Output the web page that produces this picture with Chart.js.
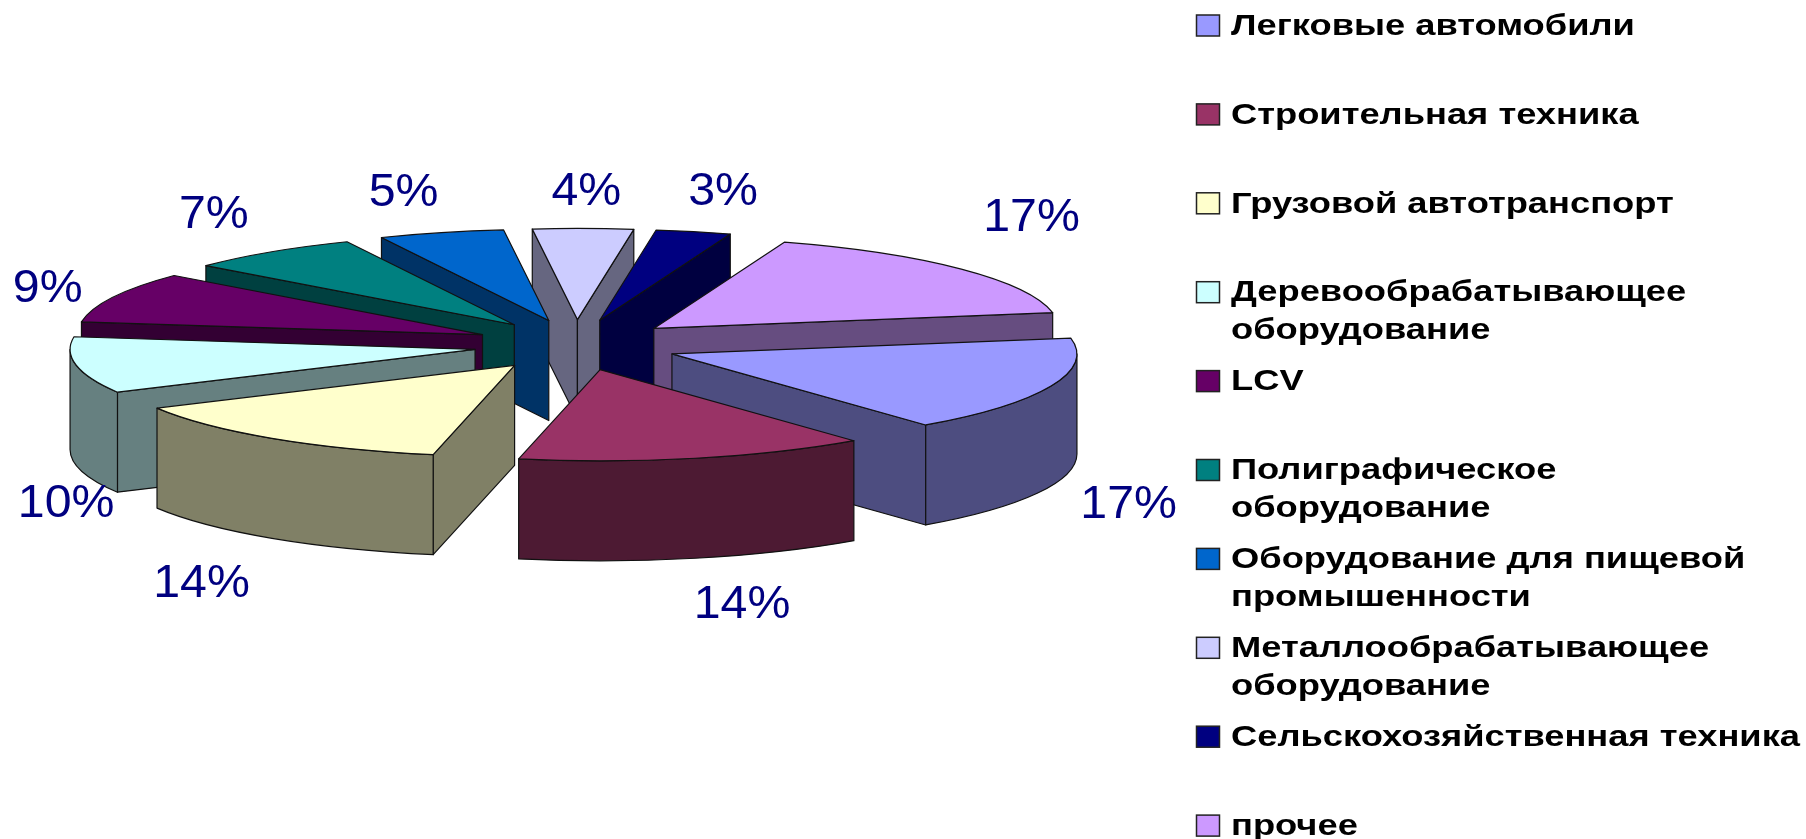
<!DOCTYPE html>
<html lang="ru">
<head>
<meta charset="utf-8">
<title>Структура рынка</title>
<style>
  html, body { margin: 0; padding: 0; background: #fff; }
  canvas { display: block; }
</style>
<script src="https://cdn.jsdelivr.net/npm/chart.js@4"></script>
</head>
<body>
<canvas id="pie" width="1806" height="839"></canvas>
<script>
// ── DATA ──────────────────────────────────────────────────────────
const categories = [
  'Легковые автомобили',
  'Строительная техника',
  'Грузовой автотранспорт',
  ['Деревообрабатывающее', 'оборудование'],
  'LCV',
  ['Полиграфическое', 'оборудование'],
  ['Оборудование для пищевой', 'промышенности'],
  ['Металлообрабатывающее', 'оборудование'],
  'Сельскохозяйственная техника',
  'прочее',
];
const shares = [17, 14, 14, 10, 9, 7, 5, 4, 3, 17];
const colors = ['#9999FF', '#993366', '#FFFFCC', '#CCFFFF', '#660066', '#008080', '#0066CC', '#CCCCFF', '#000080', '#CC99FF'];

// ── 3D LOOK ───────────────────────────────────────────────────────
const SQUASH = 0.225;      // top face ellipse
const DEPTH = 100;         // wall height
const EXPLODE_X = 102.5;
const EXPLODE_Y = 25.4;
const LABEL_RX = 600;
const LABEL_RY = 160;
const labelNudge = [[-9, 4], [25, 5], [-15, 11], [81, 32], [19, 10], [-1, -2], [-13, 3], [2, 7], [8, 3], [0, -23]];
// the source picture is stretched sideways, text included
const LEGEND_STRETCH = 1.21;
const LABEL_STRETCH = 1.05;

function shade(hex) {
  const n = parseInt(hex.slice(1), 16);
  const half = v => Math.round(v / 2);
  return `rgb(${half(n >> 16)},${half((n >> 8) & 255)},${half(n & 255)})`;
}

function midAngle(arc) {
  return (arc.startAngle + arc.endAngle) / 2;
}

function stretchedText(ctx, text, x, y, stretch) {
  ctx.save();
  ctx.translate(x, y);
  ctx.scale(stretch, 1);
  ctx.fillText(text, 0, 0);
  ctx.restore();
}

function drawSlice(ctx, arc, color) {
  const mid = midAngle(arc);
  const ox = arc.x + EXPLODE_X * Math.cos(mid);
  const oy = arc.y + EXPLODE_Y * Math.sin(mid);
  const R = arc.outerRadius;
  const Ry = R * SQUASH;
  const a = arc.startAngle, b = arc.endAngle;

  ctx.fillStyle = shade(color);
  ctx.strokeStyle = '#111';
  ctx.lineWidth = 1.2;
  ctx.lineJoin = 'round';

  const cutFace = ang => {
    const ex = ox + R * Math.cos(ang), ey = oy + Ry * Math.sin(ang);
    ctx.beginPath();
    ctx.moveTo(ox, oy);
    ctx.lineTo(ex, ey);
    ctx.lineTo(ex, ey + DEPTH);
    ctx.lineTo(ox, oy + DEPTH);
    ctx.closePath();
    ctx.fill();
    ctx.stroke();
  };
  // only the cuts that face the viewer
  if (Math.cos(a) < 0) cutFace(a);
  if (Math.cos(b) > 0) cutFace(b);

  // outer wall, front half of the ellipse only
  [-2, 0, 2].forEach(k => {
    const from = Math.max(a, k * Math.PI), to = Math.min(b, (k + 1) * Math.PI);
    if (from >= to) return;
    ctx.beginPath();
    ctx.ellipse(ox, oy, R, Ry, 0, from, to);
    ctx.ellipse(ox, oy + DEPTH, R, Ry, 0, to, from, true);
    ctx.closePath();
    ctx.fill();
    ctx.stroke();
  });

  // top face comes from the library's own arc
  ctx.save();
  ctx.translate(ox, oy);
  ctx.scale(1, SQUASH);
  ctx.translate(-arc.x, -arc.y);
  arc.draw(ctx);
  ctx.restore();

  ctx.beginPath();
  ctx.moveTo(ox, oy);
  ctx.ellipse(ox, oy, R, Ry, 0, a, b);
  ctx.closePath();
  ctx.stroke();
}

const pie3d = {
  id: 'pie3d',
  beforeDatasetsDraw(chart) {
    const ctx = chart.ctx;
    const arcs = chart.getDatasetMeta(0).data;
    const order = arcs.map((_, i) => i).sort((p, q) => Math.sin(midAngle(arcs[p])) - Math.sin(midAngle(arcs[q])));
    ctx.save();
    order.forEach(i => drawSlice(ctx, arcs[i], colors[i]));
    ctx.restore();
    return false;
  },
  afterDraw(chart) {
    const ctx = chart.ctx;
    const arcs = chart.getDatasetMeta(0).data;
    ctx.save();

    // percent labels
    ctx.font = '46px "Liberation Sans", Arial, sans-serif';
    ctx.fillStyle = '#000080';
    ctx.textAlign = 'center';
    ctx.textBaseline = 'middle';
    arcs.forEach((arc, i) => {
      const mid = midAngle(arc), sin = Math.sin(mid);
      const x = arc.x + LABEL_RX * Math.cos(mid) + labelNudge[i][0];
      const y = arc.y + LABEL_RY * sin + (sin > 0 ? DEPTH : 0) + labelNudge[i][1];
      stretchedText(ctx, shares[i] + '%', x, y, LABEL_STRETCH);
    });

    // legend, fixed step between entries like the original
    ctx.font = 'bold 30px "Liberation Sans", Arial, sans-serif';
    ctx.textAlign = 'left';
    categories.forEach((cat, i) => {
      const y = 25.5 + i * 88.9;
      ctx.fillStyle = colors[i];
      ctx.fillRect(1196.5, y - 10.5, 23, 21);
      ctx.strokeStyle = '#222';
      ctx.lineWidth = 1.5;
      ctx.strokeRect(1196.5, y - 10.5, 23, 21);
      ctx.fillStyle = '#000';
      [].concat(cat).forEach((line, n) => stretchedText(ctx, line, 1231, y + 1 + n * 37.5, LEGEND_STRETCH));
    });
    ctx.restore();
  }
};

// ── INIT ──────────────────────────────────────────────────────────
new Chart(document.getElementById('pie'), {
  type: 'pie',
  data: {
    labels: categories,
    datasets: [{ data: shares, backgroundColor: colors, borderWidth: 0 }]
  },
  options: {
    responsive: false,
    animation: false,
    rotation: 80,
    radius: 405,
    layout: { padding: { right: 654, bottom: 149 } },
    plugins: { legend: { display: false }, tooltip: { enabled: false } }
  },
  plugins: [pie3d]
});
</script>
</body>
</html>
